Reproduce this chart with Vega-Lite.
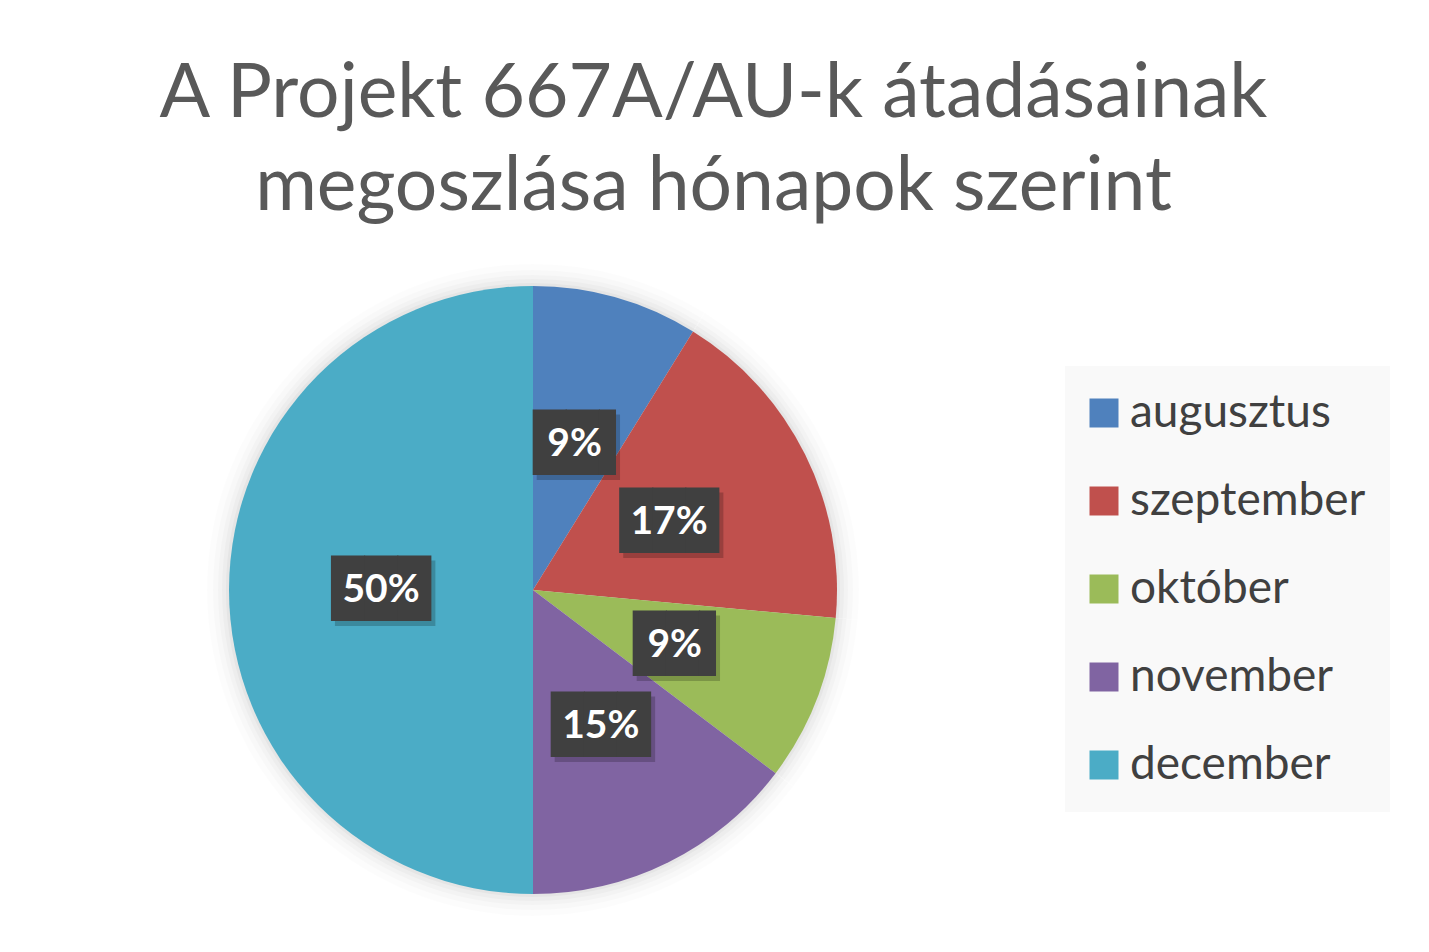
{
  "$schema": "https://vega.github.io/schema/vega-lite/v6.json",
  "width": 1056,
  "height": 700,
  "padding": {"left": 5, "top": 240, "right": 368, "bottom": 12},
  "autosize": {"type": "none"},
  "background": "#ffffff",
  "title": {
    "text": ["A Projekt 667A/AU-k átadásainak", "megoszlása hónapok szerint"],
    "font": "Lato",
    "fontSize": 75,
    "fontWeight": "normal",
    "color": "#595959",
    "lineHeight": 93,
    "anchor": "middle",
    "frame": "bounds",
    "offset": 14,
    "dx": 16
  },
  "data": {
    "values": [
      {"honap": "augusztus", "sorszam": 8, "darab": 3, "cimke": "9%"},
      {"honap": "szeptember", "sorszam": 9, "darab": 6, "cimke": "17%"},
      {"honap": "október", "sorszam": 10, "darab": 3, "cimke": "9%"},
      {"honap": "november", "sorszam": 11, "darab": 5, "cimke": "15%"},
      {"honap": "december", "sorszam": 12, "darab": 17, "cimke": "50%"}
    ]
  },
  "encoding": {
    "theta": {"field": "darab", "type": "quantitative", "stack": true},
    "order": {"field": "sorszam", "type": "quantitative"}
  },
  "layer": [
    {"mark": {"type": "arc", "outerRadius": 326, "color": "#000000", "opacity": 0.01}},
    {"mark": {"type": "arc", "outerRadius": 320, "color": "#000000", "opacity": 0.015}},
    {"mark": {"type": "arc", "outerRadius": 315, "color": "#000000", "opacity": 0.02}},
    {"mark": {"type": "arc", "outerRadius": 311, "color": "#000000", "opacity": 0.025}},
    {"mark": {"type": "arc", "outerRadius": 307, "color": "#000000", "opacity": 0.03}},
    {
      "mark": {"type": "arc", "outerRadius": 304},
      "encoding": {
        "color": {
          "field": "honap",
          "type": "nominal",
          "sort": ["augusztus", "szeptember", "október", "november", "december"],
          "scale": {
            "domain": ["augusztus", "szeptember", "október", "november", "december"],
            "range": ["#4f81bd", "#c0504d", "#9bbb59", "#8064a2", "#4bacc6"]
          },
          "legend": {
            "title": null,
            "orient": "none",
            "legendX": 1060,
            "legendY": 126,
            "fillColor": "#f9f9f9",
            "padding": 24,
            "symbolType": "square",
            "symbolSize": 841,
            "symbolStrokeWidth": 0,
            "symbolOffset": -8,
            "labelFont": "Lato",
            "labelFontSize": 46,
            "labelColor": "#404040",
            "labelOffset": 3,
            "rowPadding": 42,
            "labelLimit": 400
          }
        }
      }
    },
    {
      "transform": [{"calculate": "length(datum.cimke) > 2 ? '███' : ''", "as": "doboz"}],
      "mark": {"type": "text", "font": "DejaVu Sans Mono", "fontSize": 55, "baseline": "middle", "color": "#000000", "opacity": 0.2, "dx": 4, "dy": 5},
      "encoding": {"radius": {"value": 152}, "text": {"field": "doboz"}}
    },
    {
      "transform": [{"calculate": "length(datum.cimke) > 2 ? '' : '██▌'", "as": "doboz"}],
      "mark": {"type": "text", "font": "DejaVu Sans Mono", "fontSize": 55, "baseline": "middle", "color": "#000000", "opacity": 0.2, "dx": 12, "dy": 5},
      "encoding": {"radius": {"value": 152}, "text": {"field": "doboz"}}
    },
    {
      "transform": [{"calculate": "length(datum.cimke) > 2 ? '███' : ''", "as": "doboz"}],
      "mark": {"type": "text", "font": "DejaVu Sans Mono", "fontSize": 55, "baseline": "middle", "color": "#404040"},
      "encoding": {"radius": {"value": 152}, "text": {"field": "doboz"}}
    },
    {
      "transform": [{"calculate": "length(datum.cimke) > 2 ? '' : '██▌'", "as": "doboz"}],
      "mark": {"type": "text", "font": "DejaVu Sans Mono", "fontSize": 55, "baseline": "middle", "color": "#404040", "dx": 8},
      "encoding": {"radius": {"value": 152}, "text": {"field": "doboz"}}
    },
    {
      "mark": {"type": "text", "font": "Lato", "fontSize": 39, "fontWeight": "bold", "baseline": "middle", "color": "#ffffff"},
      "encoding": {"radius": {"value": 152}, "text": {"field": "cimke"}}
    }
  ]
}
